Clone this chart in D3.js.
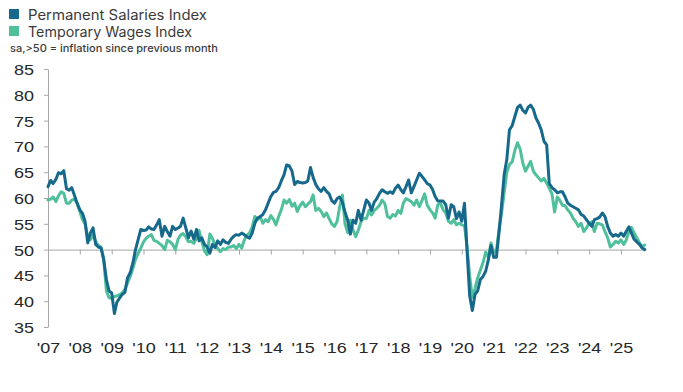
<!DOCTYPE html>
<html>
<head>
<meta charset="utf-8">
<script src="https://cdn.jsdelivr.net/npm/d3@7"></script>
<style>
  body { margin: 0; background: #fff; }
  svg { display: block; }
</style>
</head>
<body>
<div id="chart"></div>
<script>
// monthly readings, Jan 2007 .. Oct 2025
const startMonth = new Date(2007, 0, 1);

const permanentSalaries = [
  62.2, 63.4, 62.8, 63.6, 64.9, 64.7, 65.3, 61.8, 61.5, 62.0, 60.5, 59.0,
  57.7, 57.0, 55.5, 51.3, 53.2, 54.2, 51.0, 50.5, 50.3, 48.1, 44.2, 42.0,
  41.6, 37.6, 39.8, 40.6, 41.3, 41.7, 44.5, 45.5, 47.4, 50.0, 52.0, 53.9,
  53.7, 53.8, 54.4, 54.0, 53.9, 54.8, 55.8, 52.6, 54.5, 53.5, 52.6, 54.5,
  53.9, 54.2, 54.5, 56.1, 54.2, 52.3, 53.6, 52.0, 53.9, 51.7, 52.3, 51.0,
  50.5, 49.3, 51.0, 50.4, 51.7, 51.0, 51.9, 51.4, 51.2, 52.0, 52.6, 52.9,
  52.8, 53.2, 52.9, 52.5, 52.2, 53.2, 55.1, 56.1, 56.4, 56.8, 57.7, 59.0,
  60.3, 61.1, 61.3, 62.0, 63.3, 64.5, 66.4, 66.2, 65.2, 62.6, 63.2, 63.0,
  62.9, 63.0, 63.3, 65.9, 64.0, 62.6, 61.8, 61.3, 62.0, 61.3, 60.8, 59.5,
  59.0, 59.9, 60.2, 59.2, 57.3, 55.7, 53.0, 55.7, 55.1, 57.6, 55.7, 57.6,
  59.6, 59.0, 57.6, 59.2, 59.9, 60.9, 61.6, 61.2, 60.9, 61.2, 60.9, 61.9,
  62.5, 61.6, 61.0, 62.2, 63.5, 61.0, 62.2, 63.5, 64.8, 64.2, 63.5, 62.8,
  62.5, 61.6, 60.3, 59.4, 59.4, 59.4, 58.7, 56.1, 58.7, 58.3, 56.0, 57.3,
  55.5, 59.0, 50.0, 41.0, 38.2, 41.3, 42.0, 44.2, 44.8, 45.8, 48.0, 50.8,
  48.5, 48.5, 53.0, 58.5, 64.5, 67.5, 73.2, 74.0, 75.8, 77.5, 78.0, 77.0,
  76.5, 77.6, 78.0, 77.2, 75.5, 74.5, 73.2, 71.0, 70.3, 62.8, 62.0, 61.6,
  61.0, 61.2, 61.2, 60.2, 59.0, 58.6, 58.3, 58.0, 57.7, 56.8, 56.5, 55.8,
  55.1, 54.5, 55.8, 56.0, 56.3, 57.1, 56.4, 54.5, 53.2, 52.6, 52.9, 52.6,
  53.2, 52.6, 53.5, 54.4, 53.2, 52.0, 51.5, 51.0, 50.3, 50.0
];

const temporaryWages = [
  59.6, 59.8, 60.2, 59.3, 60.4, 61.2, 60.9, 59.0, 59.0, 59.6, 59.8, 59.0,
  57.4, 55.8, 55.0, 52.6, 51.9, 52.9, 51.6, 50.8, 50.5, 48.1, 42.0, 40.7,
  40.5, 40.9, 41.0, 41.3, 41.6, 42.3, 43.5, 44.8, 46.4, 48.1, 49.3, 50.3,
  51.5, 52.2, 52.6, 52.9, 51.8, 51.6, 51.2, 50.8, 50.0, 51.8, 51.5, 51.0,
  50.0, 52.0, 52.8, 53.1, 52.5, 51.5, 51.6, 51.2, 52.2, 53.7, 51.5, 49.8,
  49.0, 53.0, 52.2, 50.9, 50.2, 49.6, 50.2, 50.0, 50.5, 50.5, 50.8, 50.2,
  51.0, 50.3, 51.8, 52.8, 53.2, 54.4, 56.4, 55.8, 56.4, 55.1, 55.8, 55.4,
  56.6, 55.8, 54.8, 56.4, 57.7, 59.6, 59.0, 59.7, 58.4, 59.0, 57.4, 58.5,
  59.2, 58.3, 58.8, 59.3, 60.6, 57.6, 58.0, 57.4, 56.4, 57.1, 56.0, 55.0,
  54.5, 55.5, 58.3, 60.6, 55.0, 53.3, 55.7, 53.8, 52.5, 53.8, 55.4, 56.1,
  56.0, 57.6, 56.7, 57.6, 58.0, 58.6, 59.6, 58.9, 56.4, 56.1, 56.8, 56.5,
  57.6, 57.0, 59.0, 59.9, 59.6, 59.3, 58.6, 59.6, 58.3, 59.5, 60.8, 58.6,
  57.7, 57.1, 56.1, 58.7, 59.0, 57.7, 57.1, 55.5, 55.1, 55.8, 54.8, 55.1,
  54.8, 54.6, 50.6, 44.8, 40.7, 42.5, 44.5, 46.0, 47.5, 49.5, 48.5, 51.3,
  49.5, 49.8, 53.5, 57.0, 61.0, 65.0, 66.5, 67.0, 69.2, 70.7, 69.5, 66.8,
  65.2, 66.2, 67.1, 65.2, 64.5, 63.9, 63.3, 63.8, 62.9, 61.9, 60.8, 57.3,
  60.2, 59.5, 58.6, 58.5, 57.7, 57.1, 56.1, 55.4, 54.5, 55.1, 53.5, 54.2,
  55.1, 55.4, 53.5, 55.1, 55.0, 54.8, 53.5, 52.3, 50.5, 51.0, 51.6, 51.3,
  51.9, 51.0, 51.8, 53.5, 54.3, 53.2, 52.3, 51.3, 50.6, 50.9
];

const yearLabels = ["'07", "'08", "'09", "'10", "'11", "'12", "'13", "'14", "'15", "'16",
  "'17", "'18", "'19", "'20", "'21", "'22", "'23", "'24", "'25"];
const yTicks = [35, 40, 45, 50, 55, 60, 65, 70, 75, 80, 85];

const seriesNames = ["Permanent Salaries Index", "Temporary Wages Index"];
const seriesColors = ["#16698b", "#4fbf9c"];

const width = 683;
const height = 392;
const axisFont = "'Liberation Sans', Arial, sans-serif";
const stretch = 1.2;   // axis lettering in the source is a bit wide

const months = permanentSalaries.map((d, i) => d3.timeMonth.offset(startMonth, i));
const lastMonth = months[months.length - 1];

const svg = d3.select("#chart")
    .append("svg")
    .attr("width", width)
    .attr("height", height);

svg.append("rect").attr("width", width).attr("height", height).attr("fill", "#fff");

const x = d3.scaleTime()
    .domain([startMonth, new Date(2025, 0, 1)])
    .range([48, 621]);

const y = d3.scaleLinear()
    .domain([35, 85])
    .range([327, 69]);

// y axis
const yAxis = svg.append("g")
    .attr("transform", `translate(${x(startMonth)},0)`)
    .call(d3.axisLeft(y).tickValues(yTicks).tickSize(4).tickSizeOuter(0));

yAxis.select(".domain").attr("stroke", "#a6a6a6");
yAxis.selectAll(".tick line").attr("stroke", "#a6a6a6");
yAxis.selectAll(".tick text")
    .attr("font-family", axisFont)
    .attr("font-size", 15)
    .attr("fill", "#262626")
    .attr("x", -14 / stretch)
    .attr("dy", "0.36em")
    .attr("transform", `scale(${stretch},1)`);

// line at 50 with yearly ticks
const yearTicks = d3.timeYear.range(startMonth, lastMonth);
const xBase = x.copy().domain([startMonth, lastMonth]).range([x(startMonth), x(lastMonth)]);

const baseAxis = svg.append("g")
    .attr("transform", `translate(0,${y(50)})`)
    .call(d3.axisBottom(xBase).tickValues(yearTicks).tickSize(5).tickSizeOuter(0).tickFormat(""));

baseAxis.select(".domain").attr("stroke", "#a6a6a6");
baseAxis.selectAll(".tick line").attr("stroke", "#a6a6a6");

// year labels along the bottom
const labelAxis = svg.append("g")
    .attr("transform", "translate(0,342)")
    .call(d3.axisBottom(xBase).tickValues(yearTicks).tickSize(0).tickPadding(0)
        .tickFormat((d, i) => yearLabels[i]));

labelAxis.select(".domain").remove();
labelAxis.selectAll(".tick text")
    .attr("font-family", axisFont)
    .attr("font-size", 15)
    .attr("fill", "#262626")
    .attr("transform", `scale(${stretch},1)`);

// series lines
const line = d3.line()
    .x((d, i) => x(months[i]))
    .y(d => y(d))
    .curve(d3.curveLinear);

[temporaryWages, permanentSalaries].forEach((values, k) => {
    svg.append("path")
        .datum(values)
        .attr("fill", "none")
        .attr("stroke", seriesColors[1 - k])
        .attr("stroke-width", 3)
        .attr("stroke-linejoin", "round")
        .attr("stroke-linecap", "round")
        .attr("d", line);
});

// legend
const legend = svg.append("g").attr("transform", "translate(9,9)");
const legendWidths = [179, 164];

seriesNames.forEach((name, i) => {
    const row = legend.append("g").attr("transform", `translate(0,${i * 17})`);
    row.append("rect")
        .attr("width", 10)
        .attr("height", 10)
        .attr("fill", seriesColors[i]);
    row.append("text")
        .attr("x", 19)
        .attr("y", 10.5)
        .attr("font-family", "Inter, 'Open Sans', sans-serif")
        .attr("font-size", 14)
        .attr("fill", "#3a3a3a")
        .attr("textLength", legendWidths[i])
        .attr("lengthAdjust", "spacingAndGlyphs")
        .text(name);
});

svg.append("text")
    .attr("x", 10)
    .attr("y", 52)
    .attr("font-family", "Inter, 'Open Sans', sans-serif")
    .attr("font-size", 10)
    .attr("font-weight", 500)
    .attr("fill", "#3a3a3a")
    .attr("textLength", 208)
    .attr("lengthAdjust", "spacingAndGlyphs")
    .text("sa,>50 = inflation since previous month");
</script>
</body>
</html>
